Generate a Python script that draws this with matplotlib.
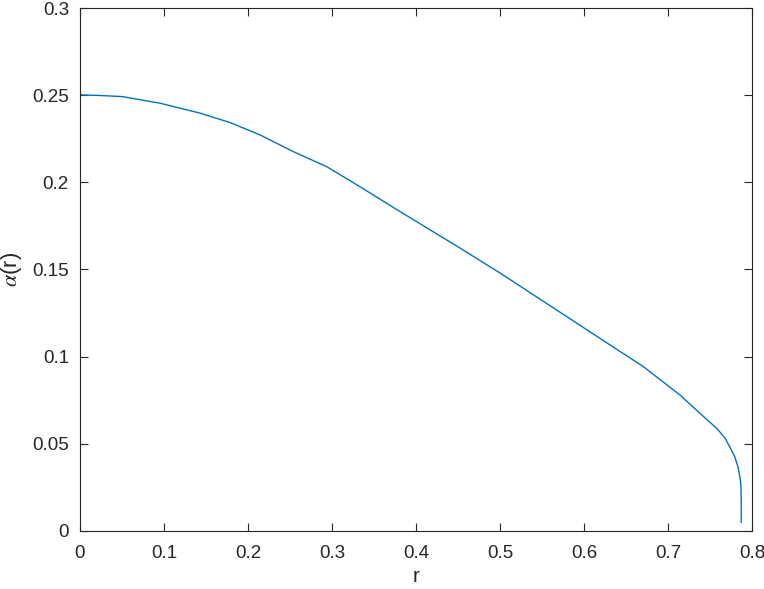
import matplotlib
matplotlib.use('Agg')
import matplotlib.pyplot as plt

plt.rcParams['font.family'] = ['Liberation Sans', 'DejaVu Sans']
plt.rcParams['mathtext.fontset'] = 'stix'

# valores
r = [0.0, 0.001, 0.003, 0.02, 0.05, 0.0952, 0.1429, 0.1786, 0.2143, 0.254, 0.2937,
     0.3333, 0.375, 0.45, 0.5, 0.6, 0.619, 0.6706, 0.7143, 0.738, 0.758, 0.768,
     0.7738, 0.7795, 0.7833, 0.786, 0.7869, 0.7872, 0.7872]
alpha = [0.252, 0.2502, 0.2501, 0.2499, 0.2492, 0.2454, 0.2397, 0.2343, 0.2272,
         0.2176, 0.209, 0.1975, 0.185, 0.163, 0.148, 0.1165, 0.1105, 0.0943, 0.078,
         0.0675, 0.0589, 0.0532, 0.048, 0.0425, 0.0367, 0.030, 0.025, 0.015, 0.005]

fig = plt.figure(figsize=(7.64, 5.89), dpi=100)
ax = fig.add_axes([0.1047, 0.0985, 0.8796, 0.8879])

ax.plot(r, alpha, color='#0072BD', linewidth=1.0)

ax.set_xlim(0, 0.8)
ax.set_ylim(0, 0.3)
ax.set_xticks([0, 0.1, 0.2, 0.3, 0.4, 0.5, 0.6, 0.7, 0.8])
ax.set_xticklabels(['0', '0.1', '0.2', '0.3', '0.4', '0.5', '0.6', '0.7', '0.8'])
ax.set_yticks([0, 0.05, 0.1, 0.15, 0.2, 0.25, 0.3])
ax.set_yticklabels(['0', '0.05', '0.1', '0.15', '0.2', '0.25', '0.3'])
ax.tick_params(direction='in', top=True, right=True, labelsize=13.5,
               length=6, width=0.8, colors='#262626')
ax.tick_params(axis='x', pad=10)
ax.tick_params(axis='y', pad=8)
for s in ax.spines.values():
    s.set_color('#262626')
    s.set_linewidth(0.8)

ax.set_xlabel('r', fontsize=15, color='#262626', labelpad=4)
ax.set_ylabel(r'$\alpha$(r)', fontsize=16, color='#262626', labelpad=6)

fig.savefig('out.png', dpi=100)
